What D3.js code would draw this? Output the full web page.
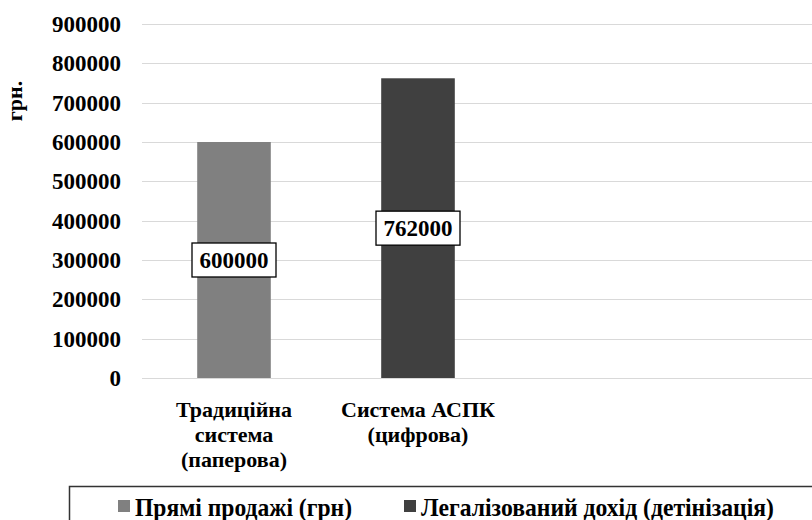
<html>
    <head>
        <script src="https://cdn.jsdelivr.net/npm/d3@7/dist/d3.min.js"></script>
        <style type="text/css">
        body {
            margin: 0;
            background: #fff;
        }
        .grid line {
            stroke: #d9d9d9;
            stroke-width: 1px;
        }
        </style>
    </head>
    <body>
        <svg width="812" height="520"></svg>
        <script>
        // data
        var categories = ['Традиційна система (паперова)', 'Система АСПК (цифрова)'];
        var catLines = [['Традиційна', 'система', '(паперова)'], ['Система АСПК', '(цифрова)']];
        var values = [600000, 762000];
        var seriesNames = ['Прямі продажі (грн)', 'Легалізований дохід (детінізація)'];
        var seriesColors = ['#808080', '#404040'];
        var yTicks = [0, 100000, 200000, 300000, 400000, 500000, 600000, 700000, 800000, 900000];
        var yTitle = 'грн.';

        var svg = d3.select('svg');
        var plotLeft = 142, plotRight = 812, plotTop = 24, plotBottom = 378;
        var legendTextWidth = [217, 353];   // legend font is squeezed sideways

        // every text gets its own font attributes
        function font(sel, size) {
            return sel.attr('font-family', 'Liberation Serif')
                .attr('font-weight', 'bold')
                .attr('font-size', size)
                .attr('fill', '#000');
        }

        var x = d3.scaleBand()
            .domain(categories)
            .range([plotLeft, 510])
            .paddingInner(0.6)
            .paddingOuter(0.3);
        var y = d3.scaleLinear()
            .domain([0, 900000])
            .range([plotBottom, plotTop]);

        // gridlines
        svg.append('g').attr('class', 'grid')
            .selectAll('line')
              .data(yTicks)
            .enter().append('line')
              .attr('x1', plotLeft).attr('x2', plotRight)
              .attr('y1', function(d) { return Math.round(y(d)) + 0.5; })
              .attr('y2', function(d) { return Math.round(y(d)) + 0.5; });

        // y tick labels
        svg.append('g')
            .selectAll('text')
              .data(yTicks)
            .enter().append('text')
              .call(font, 23)
              .attr('x', 121)
              .attr('y', function(d) { return y(d); })
              .attr('dy', '0.35em')
              .attr('text-anchor', 'end')
              .text(function(d) { return d; });

        // y title
        svg.append('text')
            .call(font, 22)
            .attr('transform', 'translate(22,101) rotate(-90)')
            .attr('text-anchor', 'middle')
            .text(yTitle);

        // bars
        svg.append('g')
            .selectAll('rect')
              .data(values)
            .enter().append('rect')
              .attr('x', function(d, i) { return x(categories[i]); })
              .attr('width', x.bandwidth())
              .attr('y', function(d) { return y(d); })
              .attr('height', function(d) { return y(0) - y(d); })
              .attr('fill', function(d, i) { return seriesColors[i]; });

        // value labels in boxes
        var vl = svg.append('g')
            .selectAll('g')
              .data(values)
            .enter().append('g')
              .attr('transform', function(d, i) {
                  return 'translate(' + (x(categories[i]) + x.bandwidth() / 2) + ',' + y(d / 2) + ')';
              });
        vl.append('rect')
            .attr('fill', '#fff')
            .attr('stroke', '#000')
            .attr('stroke-width', 1.3);
        vl.append('text')
            .call(font, 23)
            .attr('text-anchor', 'middle')
            .attr('dy', '0.35em')
            .text(function(d) { return d; });
        vl.each(function() {
            var g = d3.select(this);
            var w = g.select('text').node().getComputedTextLength();
            g.select('rect')
                .attr('x', -w / 2 - 7.5).attr('width', w + 15)
                .attr('y', -17).attr('height', 34);
        });

        // category labels
        svg.append('g')
            .selectAll('text')
              .data(categories)
            .enter().append('text')
              .call(font, 22)
              .attr('text-anchor', 'middle')
              .each(function(d, i) {
                  var t = d3.select(this);
                  catLines[i].forEach(function(line, j) {
                      t.append('tspan')
                        .attr('x', x(d) + x.bandwidth() / 2)
                        .attr('y', 417 + j * 25)
                        .text(line);
                  });
              });

        // legend
        svg.append('rect')
            .attr('x', 69.5).attr('y', 486.5)
            .attr('width', 760).attr('height', 60)
            .attr('fill', 'none')
            .attr('stroke', '#333')
            .attr('stroke-width', 1.5);
        var lx = 118;
        var legend = svg.append('g');
        seriesNames.forEach(function(name, i) {
            legend.append('rect')
                .attr('x', lx).attr('y', 500)
                .attr('width', 12).attr('height', 12)
                .attr('fill', seriesColors[i]);
            legend.append('text')
                .call(font, 26)
                .attr('x', lx + 17).attr('y', 515.5)
                .attr('textLength', legendTextWidth[i])
                .attr('lengthAdjust', 'spacingAndGlyphs')
                .text(name);
            lx += 17 + legendTextWidth[i] + 52;
        });
        </script>
    </body>
</html>
